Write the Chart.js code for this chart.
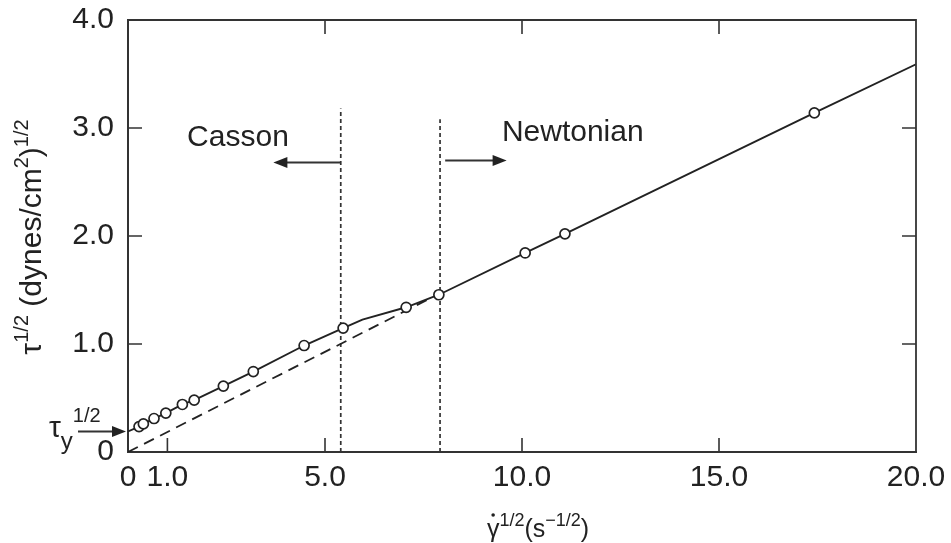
<!DOCTYPE html>
<html>
<head>
<meta charset="utf-8">
<script src="https://cdn.jsdelivr.net/npm/chart.js@4.4.1/dist/chart.umd.min.js"></script>
<style>
  body { margin: 0; background: #fff; }
  canvas { display: block; }
</style>
</head>
<body>
<canvas id="cassonChart" width="951" height="543"></canvas>
<script>
// Casson plot: sqrt(shear stress) vs sqrt(shear rate)

// measured points (open circles)
const shearRateRoot = [0.28, 0.39, 0.66, 0.96, 1.38, 1.68, 2.42, 3.18, 4.47, 5.46, 7.06, 7.89, 10.08, 11.09, 17.42];
const stressRoot = [0.235, 0.26, 0.31, 0.36, 0.44, 0.48, 0.61, 0.745, 0.986, 1.147, 1.34, 1.456, 1.843, 2.02, 3.14];

// solid curve through the data, from the yield stress intercept to the right edge
const fitX = [0, 0.28, 0.39, 0.66, 0.96, 1.38, 1.68, 2.42, 3.18, 4.47, 5.46, 5.95, 7.06, 7.89, 10.08, 11.09, 17.42, 20];
const fitY = [0.19, 0.235, 0.26, 0.31, 0.36, 0.44, 0.48, 0.61, 0.745, 0.986, 1.147, 1.225, 1.34, 1.456, 1.843, 2.02, 3.14, 3.59];

// dashed reference line from origin
const dashX = [0, 7.6];
const dashY = [0, 1.41];

// region boundaries
const cassonLimit = 5.4;
const cassonTop = 3.18;
const newtonLimit = 7.92;
const newtonTop = 3.08;
const yieldStress = 0.19;

const xTicks = [0, 1, 5, 10, 15, 20];
const xTickLabels = ['0', '1.0', '5.0', '10.0', '15.0', '20.0'];
const yTicks = [0, 1, 2, 3, 4];
const yTickLabels = ['0', '1.0', '2.0', '3.0', '4.0'];

const FONT = "'Liberation Sans', Arial, sans-serif";
const INK = '#222';

function toPoints(xs, ys) {
    return xs.map((x, i) => ({ x: x, y: ys[i] }));
}

// draws a run of text pieces, some raised or lowered
function drawRich(ctx, parts, x, y, align) {
    let total = 0;
    parts.forEach(p => {
        ctx.font = p.size + 'px ' + FONT;
        p.w = ctx.measureText(p.t).width;
        total += p.w;
    });
    let cx = align === 'center' ? x - total / 2 : x;
    ctx.textAlign = 'left';
    ctx.textBaseline = 'alphabetic';
    parts.forEach(p => {
        ctx.font = p.size + 'px ' + FONT;
        ctx.fillText(p.t, cx, y + (p.dy || 0));
        p.x = cx;
        cx += p.w;
    });
    return parts;
}

function arrow(ctx, x1, y1, x2, y2) {
    const ang = Math.atan2(y2 - y1, x2 - x1);
    const len = 14, half = 5.5;
    ctx.beginPath();
    ctx.moveTo(x1, y1);
    ctx.lineTo(x2 - Math.cos(ang) * len * 0.8, y2 - Math.sin(ang) * len * 0.8);
    ctx.stroke();
    ctx.beginPath();
    ctx.moveTo(x2, y2);
    ctx.lineTo(x2 - Math.cos(ang) * len + Math.sin(ang) * half, y2 - Math.sin(ang) * len - Math.cos(ang) * half);
    ctx.lineTo(x2 - Math.cos(ang) * len - Math.sin(ang) * half, y2 - Math.sin(ang) * len + Math.cos(ang) * half);
    ctx.closePath();
    ctx.fill();
}

const annotations = {
    id: 'annotations',
    afterDraw(chart) {
        const ctx = chart.ctx;
        const xs = chart.scales.x;
        const ys = chart.scales.y;
        const area = chart.chartArea;
        ctx.save();
        ctx.strokeStyle = '#333';
        ctx.fillStyle = INK;

        // top and right frame
        ctx.lineWidth = 1.8;
        ctx.beginPath();
        ctx.moveTo(area.left, area.top);
        ctx.lineTo(area.right, area.top);
        ctx.lineTo(area.right, area.bottom);
        ctx.stroke();

        // inward tick marks on all four sides
        const tl = 14;
        ctx.lineWidth = 1.6;
        ctx.beginPath();
        [1, 5, 10, 15].forEach(v => {
            const px = xs.getPixelForValue(v);
            ctx.moveTo(px, area.bottom);
            ctx.lineTo(px, area.bottom - tl);
            if (v !== 1) {
                ctx.moveTo(px, area.top);
                ctx.lineTo(px, area.top + tl);
            }
        });
        [1, 2, 3].forEach(v => {
            const py = ys.getPixelForValue(v);
            ctx.moveTo(area.left, py);
            ctx.lineTo(area.left + tl, py);
            ctx.moveTo(area.right, py);
            ctx.lineTo(area.right - tl, py);
        });
        ctx.stroke();

        // region labels and arrows
        ctx.lineWidth = 2;
        ctx.font = '30px ' + FONT;
        ctx.textBaseline = 'middle';
        ctx.textAlign = 'left';
        ctx.fillText('Casson', xs.getPixelForValue(1.5), ys.getPixelForValue(2.91));
        ctx.fillText('Newtonian', xs.getPixelForValue(9.49), ys.getPixelForValue(2.96));
        arrow(ctx, xs.getPixelForValue(cassonLimit), ys.getPixelForValue(2.68),
              xs.getPixelForValue(3.69), ys.getPixelForValue(2.68));
        arrow(ctx, xs.getPixelForValue(8.05), ys.getPixelForValue(2.70),
              xs.getPixelForValue(9.61), ys.getPixelForValue(2.70));

        // yield stress marker
        const yPx = ys.getPixelForValue(yieldStress);
        arrow(ctx, 78, yPx, area.left - 2, yPx);
        drawRich(ctx, [
            { t: 'τ', size: 30 },
            { t: 'y', size: 24, dy: 12 },
            { t: '1/2', size: 20, dy: -15 }
        ], 49, yPx + 6, 'left');

        // axis titles
        const xt = drawRich(ctx, [
            { t: 'γ', size: 25 },
            { t: '1/2', size: 18, dy: -11 },
            { t: '(s', size: 25 },
            { t: '\u22121/2', size: 18, dy: -11 },
            { t: ')', size: 25 }
        ], 538, 537, 'center');
        // dot over gamma (shear rate)
        ctx.beginPath();
        ctx.arc(xt[0].x + xt[0].w / 2, 537 - 22, 1.8, 0, Math.PI * 2);
        ctx.fill();

        ctx.translate(31, 237);
        ctx.rotate(-Math.PI / 2);
        drawRich(ctx, [
            { t: 'τ', size: 30 },
            { t: '1/2', size: 20, dy: -13 },
            { t: ' (dynes/cm', size: 30 },
            { t: '2', size: 20, dy: -13 },
            { t: ')', size: 30 },
            { t: '1/2', size: 20, dy: -13 }
        ], 0, 10, 'center');
        ctx.restore();
    }
};

function noScalePadding(s) {
    s.paddingTop = 0;
    s.paddingBottom = 0;
    s.paddingLeft = 0;
    s.paddingRight = 0;
}

const chart = new Chart(document.getElementById('cassonChart'), {
    type: 'scatter',
    data: {
        datasets: [
            {
                label: 'Measured',
                data: toPoints(shearRateRoot, stressRoot),
                pointRadius: 5,
                pointBorderWidth: 1.7,
                pointBackgroundColor: '#fff',
                pointBorderColor: INK,
                showLine: false,
                order: 0
            },
            {
                label: 'Fit',
                data: toPoints(fitX, fitY),
                showLine: true,
                pointRadius: 0,
                borderColor: INK,
                borderWidth: 1.9,
                order: 1
            },
            {
                label: 'Casson line',
                data: toPoints(dashX, dashY),
                showLine: true,
                pointRadius: 0,
                borderColor: INK,
                borderWidth: 1.8,
                borderDash: [11, 7],
                order: 2
            },
            {
                label: 'Casson limit',
                data: [{ x: cassonLimit, y: 0 }, { x: cassonLimit, y: cassonTop }],
                showLine: true,
                pointRadius: 0,
                borderColor: '#333',
                borderWidth: 1.7,
                borderDash: [4, 3],
                order: 3
            },
            {
                label: 'Newtonian limit',
                data: [{ x: newtonLimit, y: 0 }, { x: newtonLimit, y: newtonTop }],
                showLine: true,
                pointRadius: 0,
                borderColor: '#333',
                borderWidth: 1.7,
                borderDash: [4, 3],
                order: 4
            }
        ]
    },
    options: {
        responsive: false,
        animation: false,
        layout: { padding: { top: 20, right: 35, left: 0, bottom: 0 } },
        plugins: {
            legend: { display: false },
            tooltip: { enabled: false }
        },
        scales: {
            x: {
                type: 'linear',
                min: 0,
                max: 20,
                grid: { display: false, drawTicks: false },
                border: { display: true, color: '#333', width: 2 },
                afterBuildTicks: s => { s.ticks = xTicks.map(v => ({ value: v })); },
                afterFit: s => { s.height = 91; noScalePadding(s); },
                ticks: {
                    autoSkip: false,
                    maxRotation: 0,
                    padding: 8,
                    color: INK,
                    font: { family: FONT, size: 30 },
                    callback: v => xTickLabels[xTicks.indexOf(v)]
                }
            },
            y: {
                type: 'linear',
                min: 0,
                max: 4,
                grid: { display: false, drawTicks: false },
                border: { display: true, color: '#333', width: 2 },
                afterBuildTicks: s => { s.ticks = yTicks.map(v => ({ value: v })); },
                afterFit: s => { s.width = 128; noScalePadding(s); },
                ticks: {
                    autoSkip: false,
                    padding: 14,
                    color: INK,
                    font: { family: FONT, size: 30 },
                    callback: v => yTickLabels[yTicks.indexOf(v)]
                }
            }
        }
    },
    plugins: [annotations]
});
</script>
</body>
</html>
